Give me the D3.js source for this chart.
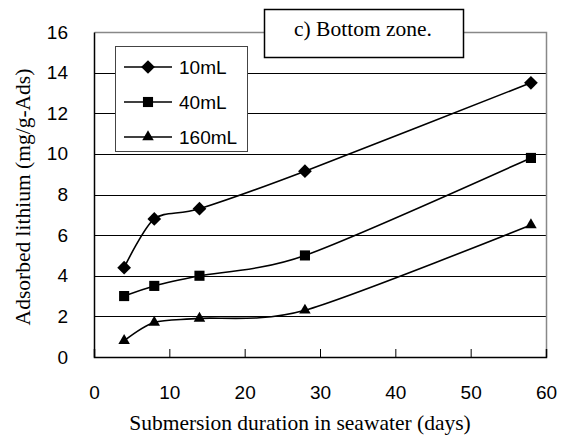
<!DOCTYPE html>
<html lang="en">
<head>
    <meta charset="UTF-8">
    <title>Bottom zone</title>
    <style>
    body { margin: 0; background: #fff; }
    svg { display: block; }
    .tick text { font-family: "Liberation Sans", Arial, sans-serif; font-size: 19px; fill: #000; }
    .serif { font-family: "Liberation Serif", "Times New Roman", serif; fill: #000; }
    </style>
    <script src="https://cdn.jsdelivr.net/npm/d3@7"></script>
</head>
<body>
    <svg width="561" height="440"></svg>
    <script>
        // days of submersion
        var days = [4, 8, 14, 28, 58];
        var seriesNames = ["10mL", "40mL", "160mL"];
        var v10 = [4.4, 6.8, 7.3, 9.15, 13.5];
        var v40 = [3.0, 3.5, 4.0, 5.0, 9.8];
        var v160 = [0.8, 1.7, 1.9, 2.3, 6.5];
        var xTicks = [0, 10, 20, 30, 40, 50, 60];
        var yTicks = [0, 2, 4, 6, 8, 10, 12, 14, 16];

        var series = [
            { name: seriesNames[0], values: v10, symbol: d3.symbolDiamond2, size: 120 },
            { name: seriesNames[1], values: v40, symbol: d3.symbolSquare2, size: 130 },
            { name: seriesNames[2], values: v160, symbol: d3.symbolTriangle2, size: 95 }
        ];

        var svg = d3.select("svg"),
            margin = { left: 94, right: 15, top: 32, bottom: 83 },
            width = 561 - margin.left - margin.right,
            height = 440 - margin.top - margin.bottom;

        var x = d3.scaleLinear().domain([0, 60]).range([0, width]);
        var y = d3.scaleLinear().domain([0, 16]).range([height, 0]);

        var g = svg.append("g")
            .attr("transform", "translate(" + margin.left + "," + margin.top + ")");

        // horizontal gridlines
        g.selectAll(".grid").data(yTicks.slice(1, -1)).enter().append("line")
            .attr("x1", 0).attr("x2", width)
            .attr("y1", function(d) { return Math.round(y(d)) + 0.5; })
            .attr("y2", function(d) { return Math.round(y(d)) + 0.5; })
            .attr("stroke", "#000").attr("stroke-width", 1);

        // gray frame top / right
        g.append("path")
            .attr("d", "M0.5," + 0.5 + "H" + (width + 0.5) + "V" + height)
            .attr("fill", "none").attr("stroke", "#888").attr("stroke-width", 1.5);

        var yAxis = g.append("g")
            .call(d3.axisLeft(y).tickValues(yTicks).tickSize(0).tickPadding(26));
        yAxis.select(".domain").attr("stroke", "#000").attr("stroke-width", 1.5);

        var xAxis = g.append("g")
            .attr("transform", "translate(0," + height + ")")
            .call(d3.axisBottom(x).tickValues(xTicks).tickSize(-8).tickPadding(29));
        xAxis.select(".domain").attr("stroke", "#000").attr("stroke-width", 1.5);
        xAxis.selectAll(".tick line").attr("stroke", "#000");

        var line = d3.line()
            .x(function(d, i) { return x(days[i]); })
            .y(function(d) { return y(d); })
            .curve(d3.curveCardinal.tension(0.2));

        series.forEach(function(s) {
            g.append("path")
                .attr("d", line(s.values))
                .attr("fill", "none").attr("stroke", "#000").attr("stroke-width", 1.6);
            g.selectAll(null).data(s.values).enter().append("path")
                .attr("d", d3.symbol().type(s.symbol).size(s.size))
                .attr("transform", function(d, i) { return "translate(" + x(days[i]) + "," + y(d) + ")"; })
                .attr("fill", "#000");
        });

        // legend
        var legend = svg.append("g").attr("transform", "translate(115,46)");
        legend.append("rect")
            .attr("x", 0.5).attr("y", 0.5).attr("width", 132).attr("height", 105)
            .attr("fill", "#fff").attr("stroke", "#444").attr("stroke-width", 1);
        series.forEach(function(s, i) {
            var ly = 21 + i * 35;
            legend.append("line")
                .attr("x1", 9).attr("x2", 57).attr("y1", ly).attr("y2", ly)
                .attr("stroke", "#000").attr("stroke-width", 1.6);
            legend.append("path")
                .attr("d", d3.symbol().type(s.symbol).size(s.size))
                .attr("transform", "translate(33," + ly + ")")
                .attr("fill", "#000");
            legend.append("text")
                .attr("x", 64).attr("y", ly + 7)
                .style("font-family", "'Liberation Sans', Arial, sans-serif")
                .style("font-size", "19px")
                .text(s.name);
        });

        // title box
        var title = svg.append("g").attr("transform", "translate(264,9)");
        title.append("rect")
            .attr("x", 0.5).attr("y", 0.5).attr("width", 199).attr("height", 48)
            .attr("fill", "#fff").attr("stroke", "#000").attr("stroke-width", 1.5);
        title.append("text").attr("class", "serif")
            .attr("x", 99).attr("y", 27)
            .attr("text-anchor", "middle")
            .style("font-size", "21.5px")
            .text("c) Bottom zone.");

        // axis titles
        svg.append("text").attr("class", "serif")
            .attr("x", 300).attr("y", 430)
            .attr("text-anchor", "middle")
            .style("font-size", "21.5px")
            .text("Submersion duration in seawater (days)");

        svg.append("text").attr("class", "serif")
            .attr("transform", "translate(30,197) rotate(-90)")
            .attr("text-anchor", "middle")
            .style("font-size", "21.5px")
            .text("Adsorbed lithium (mg/g-Ads)");
    </script>
</body>
</html>
